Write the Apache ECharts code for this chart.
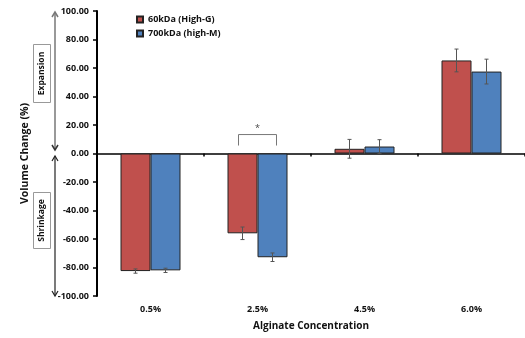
<!DOCTYPE html>
<html><head><meta charset="utf-8">
<script src="https://cdn.jsdelivr.net/npm/echarts@6/dist/echarts.min.js"></script>
<style>html,body{margin:0;padding:0;background:#fff}#c{width:525px;height:338px}</style>
</head><body><div id="c"></div>
<script>
var categories = ['0.5%', '2.5%', '4.5%', '6.0%'];
var seriesNames = ['60kDa (High-G)', '700kDa (high-M)'];
var highG = [-82.5, -56, 3.3, 65.3];
var highGErr = [1.5, 4.4, 6.6, 8];
var highM = [-82, -72.8, 4.9, 57.5];
var highMErr = [1.5, 3, 4.8, 8.7];
var yTicks = [-100, -80, -60, -40, -20, 0, 20, 40, 60, 80, 100];
// significance bracket: [categoryIndex, bracketTop, legBottom, starY]
var sigBracket = [[1, 13.3, 5.6, 17.5]];

var BAR_W = 30;
var FONT = '"Open Sans", Lato, sans-serif';
var chart = echarts.init(document.getElementById('c'));

function errSeries(vals, errs, side) {
  return {
    type: 'custom', xAxisIndex: 0, yAxisIndex: 0, z: 10, silent: true,
    data: vals.map(function (v, i) { return [i, v, errs[i]]; }),
    renderItem: function (params, api) {
      var i = api.value(0), v = api.value(1), e = api.value(2);
      var hi = api.coord([i, v + e]), lo = api.coord([i, v - e]);
      var x = hi[0] + side * BAR_W / 2;
      var c = 2;
      var st = { stroke: '#555', lineWidth: 1 };
      return { type: 'group', children: [
        { type: 'line', shape: { x1: x, y1: hi[1], x2: x, y2: lo[1] }, style: st },
        { type: 'line', shape: { x1: x - c, y1: hi[1], x2: x + c, y2: hi[1] }, style: st },
        { type: 'line', shape: { x1: x - c, y1: lo[1], x2: x + c, y2: lo[1] }, style: st }
      ]};
    }
  };
}

var option = {
  animation: false,
  textStyle: { fontFamily: FONT },
  grid: { left: 97, top: 11, bottom: 42, width: 428 },
  legend: {
    orient: 'vertical', left: 131, top: 10, itemWidth: 6, itemHeight: 6, itemGap: 5,
    icon: 'rect',
    textStyle: { fontSize: 9, fontWeight: 'bold', color: '#111', fontFamily: FONT },
    data: seriesNames
  },
  xAxis: [
    {
      type: 'category', data: categories, position: 'bottom',
      axisLine: { show: false, onZero: false }, axisTick: { show: false },
      axisLabel: { fontSize: 9, fontWeight: 'bold', color: '#111', margin: 9, fontFamily: FONT },
      name: 'Alginate Concentration', nameLocation: 'middle', nameGap: 25,
      nameTextStyle: { fontSize: 10, fontWeight: 'bold', color: '#111', fontFamily: FONT }
    },
    {
      type: 'category', data: categories, position: 'top',
      axisLine: { show: true, onZero: true, lineStyle: { color: '#000', width: 1.5 } },
      axisTick: { show: true, inside: true, length: 3, lineStyle: { color: '#000', width: 1.5 } },
      axisLabel: { show: false }
    }
  ],
  yAxis: {
    type: 'value', min: yTicks[0], max: yTicks[yTicks.length - 1], interval: 20,
    axisLine: { show: true, lineStyle: { color: '#000', width: 2 } },
    axisTick: { show: true, length: 4, lineStyle: { color: '#000', width: 1.5 } },
    splitLine: { show: false },
    axisLabel: { fontSize: 9, fontWeight: 'bold', color: '#111', margin: 8, fontFamily: FONT,
      formatter: function (v) { return v.toFixed(2); } },
    name: 'Volume Change (%)', nameLocation: 'middle', nameGap: 66,
    nameTextStyle: { fontSize: 10.5, fontWeight: 'bold', color: '#111', fontFamily: FONT }
  },
  series: [
    { name: seriesNames[0], type: 'bar', data: highG, barWidth: BAR_W, barGap: '0%',
      itemStyle: { color: '#C0504D', borderColor: '#222', borderWidth: 1 } },
    { name: seriesNames[1], type: 'bar', data: highM, barWidth: BAR_W, barGap: '0%',
      itemStyle: { color: '#4F81BD', borderColor: '#222', borderWidth: 1 } },
    errSeries(highG, highGErr, -1),
    errSeries(highM, highMErr, 1),
    {
      type: 'custom', xAxisIndex: 0, yAxisIndex: 0, z: 10, silent: true,
      data: sigBracket,
      renderItem: function (params, api) {
        var i = api.value(0);
        var top = api.coord([i, api.value(1)]), bot = api.coord([i, api.value(2)]);
        var star = api.coord([i, api.value(3)]);
        var xl = top[0] - 19, xr = top[0] + 19;
        var st = { stroke: '#777', lineWidth: 1, fill: null };
        return { type: 'group', children: [
          { type: 'polyline', shape: { points: [[xl, bot[1]], [xl, top[1]], [xr, top[1]], [xr, bot[1]]] }, style: st },
          { type: 'text', x: star[0], y: star[1], style: { text: '*', fill: '#444', fontSize: 9, align: 'center', verticalAlign: 'middle', fontFamily: FONT } }
        ]};
      }
    }
  ],
  graphic: [
    { type: 'line', shape: { x1: 55, y1: 13, x2: 55, y2: 149 }, style: { stroke: '#777', lineWidth: 1.5 } },
    { type: 'polyline', shape: { points: [[52, 17], [55, 12], [58, 17]] }, style: { stroke: '#777', lineWidth: 1.5, fill: null } },
    { type: 'polyline', shape: { points: [[52, 145], [55, 150], [58, 145]] }, style: { stroke: '#333', lineWidth: 1.5, fill: null } },
    { type: 'line', shape: { x1: 55, y1: 156, x2: 55, y2: 295 }, style: { stroke: '#222', lineWidth: 1.2 } },
    { type: 'polyline', shape: { points: [[52, 161], [55, 156], [58, 161]] }, style: { stroke: '#222', lineWidth: 1.2, fill: null } },
    { type: 'polyline', shape: { points: [[52, 291], [55, 296], [58, 291]] }, style: { stroke: '#222', lineWidth: 1.2, fill: null } },
    { type: 'rect', shape: { x: 33.5, y: 44.5, width: 17, height: 58 }, style: { stroke: '#999', lineWidth: 1, fill: '#fff' } },
    { type: 'text', x: 42, y: 73.5, rotation: Math.PI / 2, style: { text: 'Expansion', fontSize: 8.5, fontWeight: 'bold', fill: '#111', align: 'center', verticalAlign: 'middle', fontFamily: FONT } },
    { type: 'rect', shape: { x: 33.5, y: 192.5, width: 17, height: 56 }, style: { stroke: '#999', lineWidth: 1, fill: '#fff' } },
    { type: 'text', x: 42, y: 220.5, rotation: Math.PI / 2, style: { text: 'Shrinkage', fontSize: 8.5, fontWeight: 'bold', fill: '#111', align: 'center', verticalAlign: 'middle', fontFamily: FONT } }
  ]
};
chart.setOption(option);
</script></body></html>
